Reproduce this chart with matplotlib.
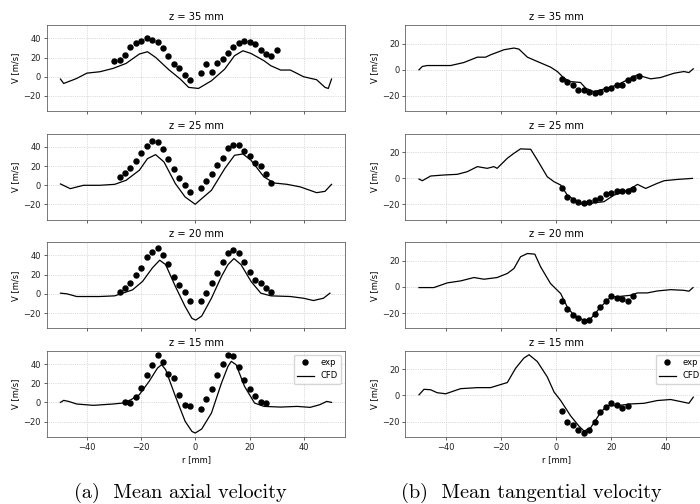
import numpy as np
import matplotlib.pyplot as plt

# panel titles (top to bottom)
titles = ['z = 35 mm', 'z = 25 mm', 'z = 20 mm', 'z = 15 mm']

# ---------------- (a) mean axial velocity ----------------
# experimental points
ax_r_exp_35 = [-30, -28, -26, -24, -22, -20, -18, -16, -14, -12, -10, -8, -6, -4, -2,
               2, 4, 6, 8, 10, 12, 14, 16, 18, 20, 22, 24, 26, 28, 30]
ax_v_exp_35 = [16.0, 17.0, 23.0, 31.3, 35.5, 36.9, 40.0, 37.9, 35.8, 29.9, 21.9, 13.6, 9.4, 1.4, -3.5,
               3.8, 12.9, 4.5, 13.9, 18.4, 24.7, 31.3, 34.8, 37.2, 35.8, 33.7, 27.8, 23.3, 21.2, 28.2]
ax_r_exp_25 = [-28, -26, -24, -22, -20, -18, -16, -14, -12, -10, -8, -6, -4, -2,
               2, 4, 6, 8, 10, 12, 14, 16, 18, 20, 22, 24, 26, 28]
ax_v_exp_25 = [8.3, 13.2, 18.4, 25.4, 33.7, 41.4, 45.9, 45.2, 37.9, 27.8, 16.7, 7.7, 0.3, -7.0,
               -2.4, 4.2, 11.8, 20.9, 28.9, 39.0, 42.4, 42.4, 36.2, 30.3, 23.3, 20.2, 11.5, 2.4]
ax_r_exp_20 = [-28, -26, -24, -22, -20, -18, -16, -14, -12, -10, -8, -6, -4, -2,
               2, 4, 6, 8, 10, 12, 14, 16, 18, 20, 22, 24, 26, 28]
ax_v_exp_20 = [1.4, 6.0, 11.2, 19.6, 27.4, 38.2, 43.5, 48.1, 40.7, 31.2, 17.5, 8.8, 1.4, -7.0,
               -7.4, 0.7, 11.2, 21.8, 33.3, 42.8, 45.6, 42.1, 33.0, 22.8, 14.0, 10.9, 5.6, 1.8]
ax_r_exp_15 = [-26, -24, -22, -20, -18, -16, -14, -12, -10, -8, -6, -4, -2,
               2, 4, 6, 8, 10, 12, 14, 16, 18, 20, 22, 24, 26]
ax_v_exp_15 = [0.0, -0.7, 5.6, 15.0, 28.9, 38.6, 49.7, 42.1, 29.9, 25.0, 8.0, -2.8, -4.2,
               -7.3, 3.5, 13.6, 28.5, 39.7, 49.4, 48.7, 37.2, 23.7, 13.9, 6.3, 0.3, -0.7]

# CFD profiles
ax_r_cfd_35 = [-49.8, -48.6, -44.0, -40.0, -35.3, -30.4, -25.6, -20.7, -17.7, -14.7, -9.8, -5.6, -2.5,
               1.1, 5.9, 10.8, 14.4, 17.5, 20.5, 25.3, 27.8, 31.4, 35.0, 39.9, 44.7, 47.8, 49.0, 50.2]
ax_v_cfd_35 = [-2.4, -7.0, -2.0, 3.8, 5.2, 8.7, 13.9, 23.7, 26.1, 20.2, 7.3, -2.4, -11.1,
               -12.2, -4.2, 8.0, 21.9, 27.1, 24.3, 16.7, 11.5, 7.0, 7.0, 0.0, -3.1, -11.1, -12.2, -2.4]
ax_r_cfd_25 = [-49.8, -46.2, -41.3, -35.3, -29.8, -25.6, -20.7, -17.7, -14.7, -11.6, -7.4, -3.8, -0.1,
               2.3, 5.9, 10.8, 14.4, 17.5, 20.5, 25.3, 29.0, 33.8, 38.7, 44.7, 47.8, 50.2]
ax_v_cfd_25 = [1.4, -3.5, 0.0, 0.0, 1.0, 5.2, 15.7, 27.8, 32.0, 24.3, 1.7, -12.2, -19.8,
               -13.9, -5.2, 17.4, 31.3, 32.7, 26.1, 8.7, 2.4, 1.0, -1.7, -7.7, -6.3, 1.0]
ax_r_cfd_20 = [-49.8, -47.4, -43.8, -35.3, -29.8, -26.8, -23.2, -19.5, -15.9, -13.2, -11.0, -7.4, -3.8,
               -1.3, 0.1, 2.3, 5.9, 9.6, 12.0, 14.2, 16.8, 20.5, 24.1, 27.8, 35.0, 39.9, 43.5, 47.2, 49.6]
ax_v_cfd_20 = [0.7, 0.0, -2.8, -2.8, -2.1, 0.7, 4.2, 13.0, 27.0, 35.1, 30.5, 7.7, -13.3,
               -25.6, -27.4, -23.2, -4.6, 18.2, 30.5, 36.8, 30.5, 13.0, 0.7, -2.1, -2.8, -4.6, -7.0, -4.6, 0.7]
ax_r_cfd_15 = [-49.8, -48.6, -46.8, -43.8, -37.7, -30.4, -26.8, -23.8, -20.7, -17.1, -14.0, -12.5, -11.0,
               -7.4, -3.8, -1.3, -0.1, 2.3, 5.9, 9.6, 12.0, 13.2, 15.0, 18.1, 21.8, 25.3, 31.4, 37.5,
               42.3, 45.9, 48.4, 50.2]
ax_v_cfd_15 = [0.0, 2.1, 1.0, -1.7, -3.1, -1.7, -0.7, 2.8, 8.0, 21.9, 35.8, 39.3, 34.1,
               6.3, -19.8, -30.3, -32.0, -27.8, -11.1, 20.2, 37.6, 42.8, 39.3, 16.7, -0.7, -4.2, -4.9, -4.2,
               -5.2, -2.4, 1.0, 0.0]

# ---------------- (b) mean tangential velocity ----------------
tg_r_exp_35 = [2, 4, 6, 8, 10, 12, 14, 16, 18, 20, 22, 24, 26, 28, 30]
tg_v_exp_35 = [-6.9, -9.7, -11.5, -15.4, -15.4, -16.7, -17.9, -16.7, -14.6, -14.1, -11.5, -11.5, -7.7, -5.9, -4.4]
tg_r_exp_25 = [2, 4, 6, 8, 10, 12, 14, 16, 18, 20, 22, 24, 26, 28]
tg_v_exp_25 = [-7.2, -14.1, -16.2, -17.9, -19.2, -17.9, -16.2, -14.9, -12.1, -11.0, -9.7, -9.5, -9.7, -8.2]
tg_r_exp_20 = [2, 4, 6, 8, 10, 12, 14, 16, 18, 20, 22, 24, 26, 28]
tg_v_exp_20 = [-10.8, -17.2, -21.8, -23.6, -26.2, -25.6, -20.5, -15.4, -11.0, -7.2, -8.5, -9.2, -10.8, -7.2]
tg_r_exp_15 = [2, 4, 6, 8, 10, 12, 14, 16, 18, 20, 22, 24, 26]
tg_v_exp_15 = [-12.2, -20.0, -22.9, -26.2, -28.8, -26.2, -20.3, -13.0, -9.1, -6.0, -7.3, -9.6, -8.3]

tg_r_cfd_35 = [-49.9, -48.7, -46.9, -43.3, -38.4, -33.6, -28.7, -25.7, -23.9, -19.0, -15.4, -13.6, -10.5,
               -6.9, -2.1, 0.4, 2.8, 5.2, 8.8, 10.7, 13.7, 16.1, 18.5, 22.2, 25.8, 29.5, 31.3, 34.3,
               37.9, 42.8, 46.4, 48.2, 49.8]
tg_v_cfd_35 = [0.0, 2.6, 3.3, 3.3, 3.3, 5.6, 9.7, 9.7, 11.5, 15.4, 16.7, 15.9, 9.7,
               6.4, 2.1, -1.3, -6.4, -9.0, -9.7, -14.1, -16.7, -15.4, -14.1, -11.5, -7.7, -3.8, -5.1, -6.9,
               -5.9, -2.6, -1.3, -2.1, 0.8]
tg_r_cfd_25 = [-49.9, -48.7, -45.7, -40.8, -36.0, -32.4, -28.7, -25.1, -22.7, -21.5, -17.8, -15.4, -13.0,
               -9.3, -6.9, -3.3, -0.8, 1.6, 4.0, 7.6, 10.1, 13.7, 17.3, 21.0, 24.6, 28.2, 29.5, 32.5,
               36.7, 39.2, 44.0, 49.5]
tg_v_cfd_25 = [-0.5, -1.8, 1.8, 2.6, 3.1, 5.1, 9.0, 7.7, 9.0, 7.7, 15.4, 19.2, 22.6,
               22.3, 14.1, 1.3, -2.6, -5.1, -12.8, -17.9, -20.5, -18.7, -17.9, -12.8, -10.3, -6.4, -4.6, -7.7,
               -3.8, -1.8, -0.8, 0.0]
tg_r_cfd_20 = [-49.9, -44.5, -39.6, -34.8, -29.9, -26.3, -21.5, -17.8, -15.4, -13.0, -10.5, -7.8, -5.7,
               -2.1, 1.6, 4.0, 6.4, 10.1, 12.5, 16.1, 19.8, 23.4, 27.0, 29.5, 33.1, 36.7, 41.6, 46.4,
               48.2, 49.7]
tg_v_cfd_20 = [-0.5, -0.5, 3.1, 4.6, 7.2, 5.9, 7.2, 10.3, 14.1, 23.1, 25.6, 25.1, 15.4,
               2.6, -5.1, -15.4, -21.8, -25.6, -24.4, -15.4, -7.7, -7.2, -6.4, -4.6, -4.6, -3.1, -2.1, -2.6,
               -3.3, -0.5]
tg_r_cfd_15 = [-49.9, -48.1, -45.7, -43.3, -40.2, -34.8, -28.7, -23.9, -17.8, -14.8, -11.8, -9.9, -6.9,
               -3.3, -0.8, 1.6, 5.2, 8.2, 10.1, 12.5, 16.1, 18.5, 22.2, 27.0, 31.9, 36.7, 41.6, 46.4,
               48.2, 49.8]
tg_v_cfd_15 = [0.5, 4.7, 4.4, 2.1, 1.3, 5.2, 6.0, 6.0, 9.9, 20.8, 28.6, 31.2, 26.0,
               14.3, 2.6, -3.9, -15.6, -23.4, -27.3, -24.7, -13.0, -7.8, -7.8, -6.5, -6.0, -3.9, -3.1, -5.2,
               -6.0, -1.3]

axial_exp = [(ax_r_exp_35, ax_v_exp_35), (ax_r_exp_25, ax_v_exp_25),
             (ax_r_exp_20, ax_v_exp_20), (ax_r_exp_15, ax_v_exp_15)]
axial_cfd = [(ax_r_cfd_35, ax_v_cfd_35), (ax_r_cfd_25, ax_v_cfd_25),
             (ax_r_cfd_20, ax_v_cfd_20), (ax_r_cfd_15, ax_v_cfd_15)]
tang_exp = [(tg_r_exp_35, tg_v_exp_35), (tg_r_exp_25, tg_v_exp_25),
            (tg_r_exp_20, tg_v_exp_20), (tg_r_exp_15, tg_v_exp_15)]
tang_cfd = [(tg_r_cfd_35, tg_v_cfd_35), (tg_r_cfd_25, tg_v_cfd_25),
            (tg_r_cfd_20, tg_v_cfd_20), (tg_r_cfd_15, tg_v_cfd_15)]

# everything scaled down (figure was shrunk into the document)
plt.rcParams.update({
    'font.size': 6,
    'axes.titlesize': 7.2,
    'axes.labelsize': 6,
    'xtick.labelsize': 6,
    'ytick.labelsize': 6,
    'legend.fontsize': 6,
    'axes.linewidth': 0.5,
    'axes.edgecolor': '#444444',
    'xtick.major.width': 0.5,
    'ytick.major.width': 0.5,
    'xtick.major.size': 2.1,
    'ytick.major.size': 2.1,
    'xtick.major.pad': 2.1,
    'ytick.major.pad': 2.1,
    'axes.titlepad': 3.6,
    'axes.labelpad': 2.4,
    'xtick.color': '#222222',
    'ytick.color': '#222222',
})

fig = plt.figure(figsize=(7, 5.04), dpi=100)
gs_a = fig.add_gridspec(4, 1, left=0.067, right=0.493, top=0.95, bottom=0.133, hspace=0.26)
gs_b = fig.add_gridspec(4, 1, left=0.579, right=1.01, top=0.95, bottom=0.133, hspace=0.26)


def column(gs, exp, cfd):
    axes = []
    for i in range(4):
        if i == 0:
            ax = fig.add_subplot(gs[i])
        else:
            ax = fig.add_subplot(gs[i], sharex=axes[0], sharey=axes[0])
        ax.plot(exp[i][0], exp[i][1], 'o', color='black', ms=3.6, label='exp')
        ax.plot(cfd[i][0], cfd[i][1], '-', color='black', lw=0.9, label='CFD')
        ax.grid(True, linestyle=':', linewidth=0.5, color='#bbbbbb')
        ax.set_title(titles[i])
        ax.set_ylabel('V [m/s]')
        if i < 3:
            ax.tick_params(labelbottom=False)
        axes.append(ax)
    axes[-1].set_xlabel('r [mm]')
    axes[-1].legend(loc='upper right', handlelength=2, borderpad=0.4, labelspacing=0.5)
    axes[0].set_xticks([-40, -20, 0, 20, 40])
    return axes


column(gs_a, axial_exp, axial_cfd)
column(gs_b, tang_exp, tang_cfd)

fig.text(0.257, 0.022, '(a)  Mean axial velocity', ha='center', va='center',
         fontsize=14.6, family='cmr10')
fig.text(0.759, 0.022, '(b)  Mean tangential velocity', ha='center', va='center',
         fontsize=14.6, family='cmr10')

plt.savefig('out.png', dpi=100)
